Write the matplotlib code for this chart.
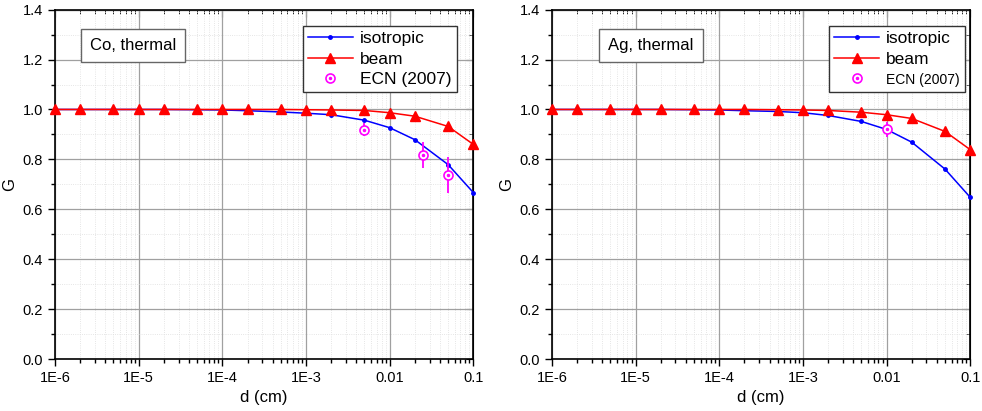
import matplotlib
matplotlib.use('Agg')
import matplotlib.pyplot as plt
from matplotlib.ticker import MultipleLocator, LogLocator, NullFormatter

plt.rcParams['font.family'] = ['Liberation Sans', 'DejaVu Sans']

# thickness d (cm)
d = [1e-6, 2e-6, 5e-6, 1e-5, 2e-5, 5e-5, 1e-4, 2e-4, 5e-4,
     1e-3, 2e-3, 5e-3, 1e-2, 2e-2, 5e-2, 1e-1]

# Co, thermal
co_iso = [1.0, 1.0, 1.0, 1.0, 1.0, 0.999, 0.998, 0.995, 0.990,
          0.985, 0.979, 0.957, 0.927, 0.879, 0.779, 0.667]
co_beam = [1.0, 1.0, 1.0, 1.0, 1.0, 1.0, 1.0, 1.0, 1.0,
           0.999, 0.998, 0.996, 0.987, 0.973, 0.932, 0.860]
co_ecn_d = [5e-3, 2.5e-2, 5e-2]
co_ecn_g = [0.919, 0.819, 0.739]
co_ecn_err = [0.027, 0.052, 0.072]

# Ag, thermal
ag_iso = [1.0, 1.0, 1.0, 1.0, 1.0, 0.999, 0.998, 0.995, 0.992,
          0.987, 0.976, 0.952, 0.920, 0.869, 0.761, 0.648]
ag_beam = [1.0, 1.0, 1.0, 1.0, 1.0, 1.0, 1.0, 1.0, 0.999,
           0.998, 0.996, 0.989, 0.979, 0.964, 0.912, 0.839]
ag_ecn_d = [1e-2]
ag_ecn_g = [0.920]
ag_ecn_err = [0.030]

xticks = [1e-6, 1e-5, 1e-4, 1e-3, 1e-2, 1e-1]
xticklabels = ['1E-6', '1E-5', '1E-4', '1E-3', '0.01', '0.1']


def draw(ax, iso, beam, ed, eg, ee, label, boxx, legx, ecn_fs):
    ax.set_xscale('log')
    ax.set_xlim(1e-6, 0.1)
    ax.set_ylim(0, 1.4)
    ax.set_axisbelow(True)

    l1, = ax.plot(d, iso, color='#0000ff', marker='o', markersize=2.5, lw=1.1,
                  clip_on=False, zorder=3)
    l2, = ax.plot(d, beam, color='#ff0000', marker='^', markersize=7, lw=1.1,
                  clip_on=False, zorder=4)
    ax.errorbar(ed, eg, yerr=ee, fmt='none', ecolor='#ff00ff',
                elinewidth=1.3, capsize=0, zorder=5)
    c1, = ax.plot(ed, eg, ls='none', marker='o', mfc='white', mec='#ff00ff',
                  markersize=6.5, mew=1.2, zorder=6)
    c2, = ax.plot(ed, eg, ls='none', marker='o', color='#ff00ff',
                  markersize=1.5, zorder=7)

    ax.set_xticks(xticks)
    ax.set_xticklabels(xticklabels)
    ax.xaxis.set_minor_locator(LogLocator(base=10, subs=range(2, 10)))
    ax.xaxis.set_minor_formatter(NullFormatter())
    ax.yaxis.set_major_locator(MultipleLocator(0.2))
    ax.yaxis.set_minor_locator(MultipleLocator(0.1))
    ax.set_yticklabels(['%.1f' % v for v in ax.get_yticks()])

    ax.grid(True, which='major', color='#a0a0a0', lw=0.9)
    ax.grid(True, which='minor', color='#dddddd', lw=0.6, ls=':')

    ax.tick_params(which='both', direction='out', top=False, right=False,
                   labelsize=10.5, width=1.0)
    ax.tick_params(which='major', length=5)
    ax.tick_params(which='minor', length=3)
    sec = ax.secondary_xaxis('top')
    sec.set_xticks(xticks)
    sec.xaxis.set_minor_locator(LogLocator(base=10, subs=range(2, 10)))
    sec.tick_params(which='both', direction='in', labeltop=False)
    sec.tick_params(which='major', length=5)
    sec.tick_params(which='minor', length=3)
    sec2 = ax.secondary_yaxis('right')
    sec2.yaxis.set_major_locator(MultipleLocator(0.2))
    sec2.yaxis.set_minor_locator(MultipleLocator(0.1))
    sec2.tick_params(which='both', direction='in', labelright=False)
    sec2.tick_params(which='major', length=5)
    sec2.tick_params(which='minor', length=3)
    for s in ax.spines.values():
        s.set_linewidth(1.2)

    ax.set_xlabel('d (cm)', fontsize=12)
    ax.set_ylabel('G', fontsize=12)

    ax.text(boxx, 0.897, label, transform=ax.transAxes, ha='center',
            va='center', fontsize=12,
            bbox=dict(boxstyle='square,pad=0.55', fc='white', ec='#666666', lw=1))

    leg = ax.legend([l1, l2, (c1, c2)], ['isotropic', 'beam', 'ECN (2007)'],
                    loc='upper right', bbox_to_anchor=(legx, 0.953),
                    fontsize=12.5, fancybox=False, framealpha=1,
                    edgecolor='#333333', borderpad=0.3, labelspacing=0.3,
                    handlelength=2.6, handletextpad=0.4, borderaxespad=0)
    leg.get_frame().set_linewidth(1.0)
    leg.get_texts()[2].set_fontsize(ecn_fs)


fig = plt.figure(figsize=(9.82, 4.11), dpi=100)
ax1 = fig.add_axes([0.056, 0.1265, 0.426, 0.85])
ax2 = fig.add_axes([0.562, 0.1265, 0.426, 0.85])

draw(ax1, co_iso, co_beam, co_ecn_d, co_ecn_g, co_ecn_err,
     'Co, thermal', 0.186, 0.960, 12.5)
draw(ax2, ag_iso, ag_beam, ag_ecn_d, ag_ecn_g, ag_ecn_err,
     'Ag, thermal', 0.237, 0.988, 10)

fig.savefig('out.png', dpi=100)
